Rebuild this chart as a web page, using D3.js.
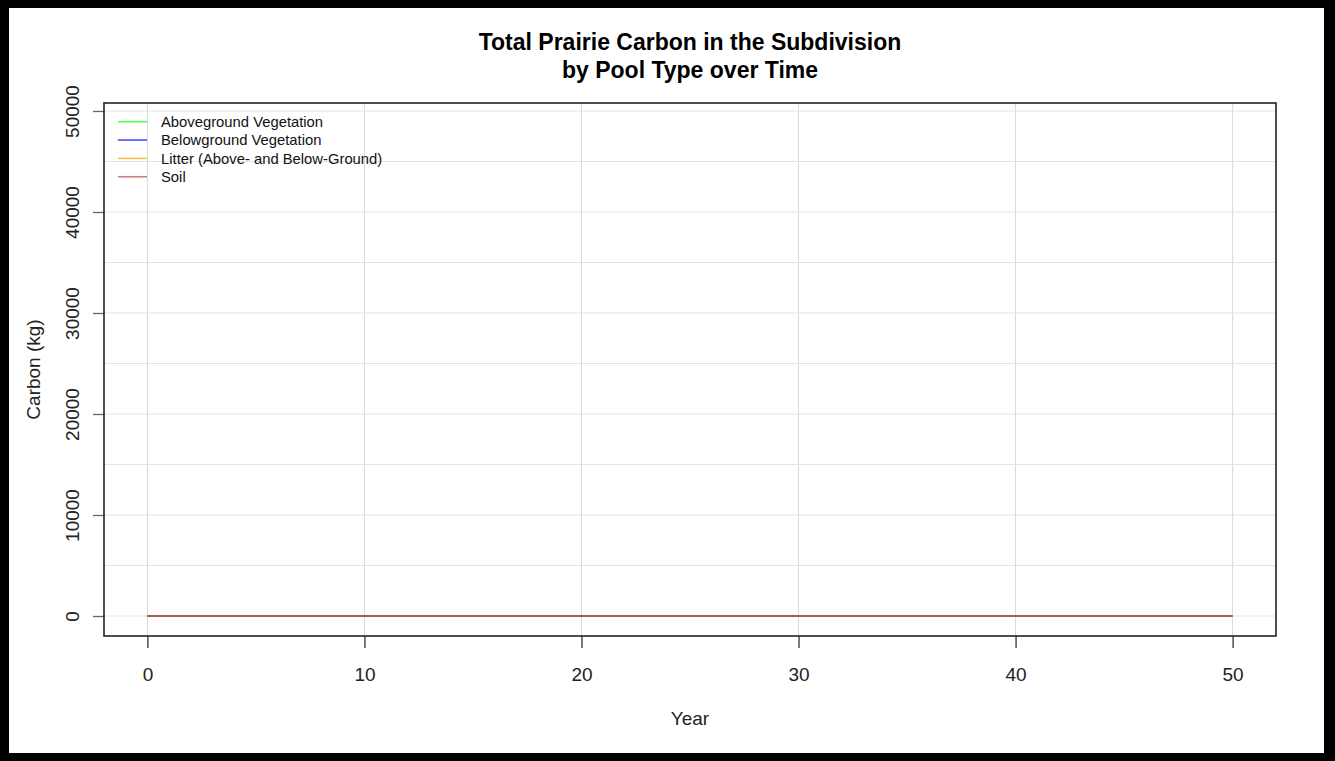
<!DOCTYPE html>
<html>
<head>
<meta charset="utf-8">
<script src="https://cdn.jsdelivr.net/npm/d3@7"></script>
<style>
  body { margin: 0; background: #000; }
  svg { display: block; font-family: "Liberation Sans", Arial, sans-serif; }
</style>
</head>
<body>
<div id="chart"></div>
<script>
// data: every pool sits at ~0 kg for the whole run
var years = [0,1,2,3,4,5,6,7,8,9,10,11,12,13,14,15,16,17,18,19,20,21,22,23,24,25,
	26,27,28,29,30,31,32,33,34,35,36,37,38,39,40,41,42,43,44,45,46,47,48,49,50];
var aboveground = [0,0,0,0,0,0,0,0,0,0,0,0,0,0,0,0,0,0,0,0,0,0,0,0,0,0,
	0,0,0,0,0,0,0,0,0,0,0,0,0,0,0,0,0,0,0,0,0,0,0,0,0];
var belowground = [0,0,0,0,0,0,0,0,0,0,0,0,0,0,0,0,0,0,0,0,0,0,0,0,0,0,
	0,0,0,0,0,0,0,0,0,0,0,0,0,0,0,0,0,0,0,0,0,0,0,0,0];
var litter = [0,0,0,0,0,0,0,0,0,0,0,0,0,0,0,0,0,0,0,0,0,0,0,0,0,0,
	0,0,0,0,0,0,0,0,0,0,0,0,0,0,0,0,0,0,0,0,0,0,0,0,0];
var soil = [0,0,0,0,0,0,0,0,0,0,0,0,0,0,0,0,0,0,0,0,0,0,0,0,0,0,
	0,0,0,0,0,0,0,0,0,0,0,0,0,0,0,0,0,0,0,0,0,0,0,0,0];

var seriesNames = ["Aboveground Vegetation", "Belowground Vegetation",
	"Litter (Above- and Below-Ground)", "Soil"];
var xTicks = [0, 10, 20, 30, 40, 50];
var yTicks = [0, 10000, 20000, 30000, 40000, 50000];
var yGrid = [0, 5000, 10000, 15000, 20000, 25000, 30000, 35000, 40000, 45000, 50000];

var colors = ["rgba(0,255,0,0.7)", "rgba(0,0,255,0.7)", "rgba(255,165,0,0.7)", "rgba(165,42,42,0.6)"];
var series = [aboveground, belowground, litter, soil];

var width = 1335, height = 761;
var plot = { left: 104, right: 1276, top: 103, bottom: 636 };

var svg = d3.select("#chart").append("svg")
	.attr("width", width)
	.attr("height", height);

// black frame + white page
svg.append("rect").attr("width", width).attr("height", height).style("fill", "#000");
svg.append("rect")
	.attr("x", 9).attr("y", 8)
	.attr("width", 1315).attr("height", 745)
	.style("fill", "#fff");

var x = d3.scaleLinear().domain([-2, 52]).range([plot.left, plot.right]);
var y = d3.scaleLinear().domain([-1980, 50790]).range([plot.bottom, plot.top]);

var g = svg.append("g");

// grid
g.selectAll(".vgrid").data(xTicks).enter()
	.append("line")
	.attr("class", "vgrid")
	.attr("x1", function(d){ return x(d); })
	.attr("x2", function(d){ return x(d); })
	.attr("y1", plot.top)
	.attr("y2", plot.bottom)
	.style("stroke", "#d9d9d9")
	.style("stroke-width", 1);

g.selectAll(".hgrid").data(yGrid).enter()
	.append("line")
	.attr("class", "hgrid")
	.attr("x1", plot.left)
	.attr("x2", plot.right)
	.attr("y1", function(d){ return y(d); })
	.attr("y2", function(d){ return y(d); })
	.style("stroke", "#e3e3e3")
	.style("stroke-width", 1);

// series lines
var line = d3.line()
	.x(function(d, i){ return x(years[i]); })
	.y(function(d){ return y(d); });

g.selectAll(".pool").data(series).enter()
	.append("path")
	.attr("class", "pool")
	.attr("d", line)
	.style("fill", "none")
	.style("stroke", function(d, i){ return colors[i]; })
	.style("stroke-width", 1.6);

// axes
var xAxis = g.append("g")
	.attr("transform", "translate(0," + plot.bottom + ")")
	.call(d3.axisBottom(x).tickValues(xTicks).tickSize(12).tickPadding(20).tickFormat(d3.format("d")));
xAxis.select(".domain").remove();
xAxis.selectAll("line").style("stroke", "#333").style("stroke-width", 1.3);
xAxis.selectAll("text")
	.style("font-size", "19px")
	.style("fill", "#222")
	.style("font-family", "Liberation Sans, Arial, sans-serif");

var yAxis = g.append("g")
	.attr("transform", "translate(" + plot.left + ",0)")
	.call(d3.axisLeft(y).tickValues(yTicks).tickSize(11).tickFormat(d3.format("d")));
yAxis.select(".domain").remove();
yAxis.selectAll("line").style("stroke", "#666").style("stroke-width", 1.3);
yAxis.selectAll("text")
	.attr("x", null).attr("dy", null)
	.attr("transform", "translate(-32,0) rotate(-90)")
	.style("text-anchor", "middle")
	.style("dominant-baseline", "central")
	.style("font-size", "19px")
	.style("fill", "#222")
	.style("font-family", "Liberation Sans, Arial, sans-serif");

// plot box
g.append("rect")
	.attr("x", plot.left).attr("y", plot.top)
	.attr("width", plot.right - plot.left)
	.attr("height", plot.bottom - plot.top)
	.style("fill", "none")
	.style("stroke", "#222")
	.style("stroke-width", 1.6);

// legend (no box)
var legend = g.selectAll(".legend").data(seriesNames).enter()
	.append("g")
	.attr("class", "legend")
	.attr("transform", function(d, i){ return "translate(0," + (121.7 + i * 18.35) + ")"; });
legend.append("line")
	.attr("x1", 118).attr("x2", 147)
	.style("stroke", function(d, i){ return colors[i]; })
	.style("stroke-width", 1.6);
legend.append("text")
	.attr("x", 161)
	.attr("dy", "0.35em")
	.style("font-size", "14.8px")
	.style("fill", "#111")
	.text(function(d){ return d; });

// titles
var midX = (plot.left + plot.right) / 2;
svg.append("text")
	.attr("x", midX).attr("y", 50)
	.style("text-anchor", "middle")
	.style("font-weight", "bold")
	.style("font-size", "23px")
	.style("fill", "#000")
	.text("Total Prairie Carbon in the Subdivision");
svg.append("text")
	.attr("x", midX).attr("y", 78)
	.style("text-anchor", "middle")
	.style("font-weight", "bold")
	.style("font-size", "23px")
	.style("fill", "#000")
	.text("by Pool Type over Time");

svg.append("text")
	.attr("x", midX).attr("y", 725)
	.style("text-anchor", "middle")
	.style("font-size", "19px")
	.style("fill", "#222")
	.text("Year");

svg.append("text")
	.attr("transform", "translate(33," + ((plot.top + plot.bottom) / 2) + ") rotate(-90)")
	.attr("dy", "0.35em")
	.style("text-anchor", "middle")
	.style("font-size", "19px")
	.style("fill", "#222")
	.text("Carbon (kg)");
</script>
</body>
</html>
